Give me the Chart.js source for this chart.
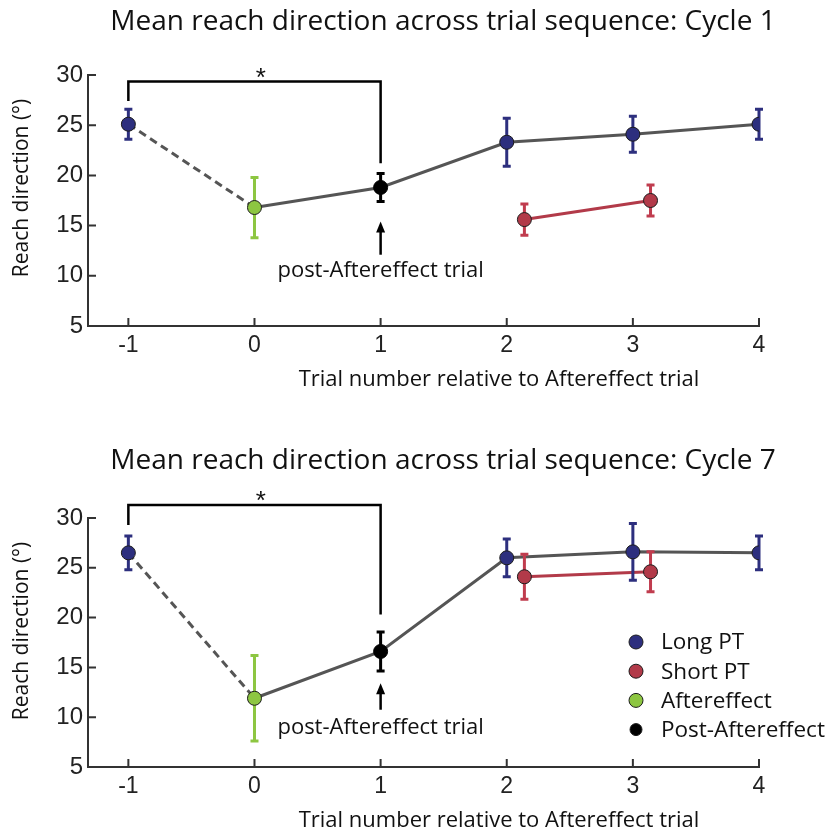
<!DOCTYPE html>
<html>
<head>
<meta charset="utf-8">
<script src="https://cdn.jsdelivr.net/npm/chart.js@4.4.1/dist/chart.umd.min.js"></script>
<style>
  html, body { margin: 0; padding: 0; background: #fff; overflow: hidden; }
  #wrap { position: relative; width: 830px; height: 835px; overflow: hidden; }
  .box { position: absolute; left: 0; width: 830px; }
  canvas { display: block; }
</style>
</head>
<body>
<div id="wrap">
  <div class="box" style="top:0;height:441px"><canvas id="cycle1" width="830" height="441"></canvas></div>
  <div class="box" style="top:441px;height:394px"><canvas id="cycle7" width="830" height="394"></canvas></div>
</div>
<script>
// ejes
const xTicks = [-1, 0, 1, 2, 3, 4];
const yTicks = [5, 10, 15, 20, 25, 30];

// posiciones x de cada grupo
const longX = [-1, 2, 3, 4];
const shortX = [2.14, 3.14];
const afterX = [0];
const postX = [1];

// Cycle 1
const c1Long = [25.1, 23.3, 24.1, 25.1];
const c1LongErr = [1.5, 2.4, 1.8, 1.5];
const c1Short = [15.6, 17.5];
const c1ShortErr = [1.55, 1.55];
const c1After = [16.8];
const c1AfterErr = [3.0];
const c1Post = [18.8];
const c1PostErr = [1.4];
const c1Bracket = [27.4, 29.35, 21.2];   // extremo izq, barra, extremo der
const c1Star = 30.3;
const c1Arrow = [15.4, 12.1];           // punta, cola
const c1Note = 10.7;

// Cycle 7
const c7Long = [26.5, 26.0, 26.6, 26.5];
const c7LongErr = [1.7, 1.9, 2.85, 1.7];
const c7Short = [24.1, 24.6];
const c7ShortErr = [2.25, 2.0];
const c7After = [11.9];
const c7AfterErr = [4.3];
const c7Post = [16.6];
const c7PostErr = [1.95];
const c7Bracket = [29.3, 31.3, 20.3];
const c7Star = 32.3;
const c7Arrow = [13.4, 10.75];
const c7Note = 9.1;

const colores = {
  azul: '#2d2f7e',
  rojo: '#b23a49',
  rojoBarra: '#c03c4e',
  verde: '#8dc641',
  negro: '#000000',
  gris: '#555555',
  eje: '#333333',
  borde: '#1c1c1c'
};

const sans = '"Open Sans", "Noto Sans", sans-serif';
const nums = '"Liberation Sans", Arial, sans-serif';

const zip = (xs, ys) => xs.map((x, i) => ({ x: x, y: ys[i] }));

// barras de error, ticks hacia dentro, textos y anotaciones
const extras = {
  id: 'extras',
  beforeDatasetDraw(chart, args) {
    const ds = chart.data.datasets[args.index];
    if (!ds.err) return;
    const xs = chart.scales.x, ys = chart.scales.y, ctx = chart.ctx;
    ctx.save();
    ctx.strokeStyle = ds.errColor;
    ctx.lineWidth = 3;
    ds.data.forEach((p, i) => {
      const px = xs.getPixelForValue(p.x);
      const top = ys.getPixelForValue(p.y + ds.err[i]);
      const bot = ys.getPixelForValue(p.y - ds.err[i]);
      ctx.beginPath();
      ctx.moveTo(px, top); ctx.lineTo(px, bot);
      ctx.moveTo(px - 4, top); ctx.lineTo(px + 4, top);
      ctx.moveTo(px - 4, bot); ctx.lineTo(px + 4, bot);
      ctx.stroke();
    });
    ctx.restore();
  },
  afterDraw(chart, args, opts) {
    const ctx = chart.ctx, xs = chart.scales.x, ys = chart.scales.y;
    const area = chart.chartArea;
    ctx.save();

    // ticks hacia dentro
    ctx.strokeStyle = colores.eje;
    ctx.lineWidth = 2;
    ctx.beginPath();
    xTicks.forEach(v => {
      const px = xs.getPixelForValue(v);
      ctx.moveTo(px, area.bottom); ctx.lineTo(px, area.bottom - 8);
    });
    yTicks.forEach(v => {
      const py = ys.getPixelForValue(v);
      ctx.moveTo(area.left, py); ctx.lineTo(area.left + 8, py);
    });
    ctx.stroke();

    ctx.fillStyle = '#111';
    ctx.textAlign = 'center';
    ctx.textBaseline = 'middle';

    // título
    ctx.font = '28px ' + sans;
    ctx.fillText(opts.title, 443, opts.titleY);

    // título eje x
    ctx.font = '22px ' + sans;
    ctx.fillText('Trial number relative to Aftereffect trial', 499, area.bottom + 54);

    // título eje y
    ctx.save();
    ctx.translate(22, area.top + 113);
    ctx.rotate(-Math.PI / 2);
    ctx.font = '21px ' + sans;
    ctx.fillText('Reach direction (°)', 0, 0);
    ctx.restore();

    // asterisco
    ctx.font = '26px ' + nums;
    ctx.fillText('*', xs.getPixelForValue(0.05), ys.getPixelForValue(opts.star) + 7);

    // flecha
    const ax = xs.getPixelForValue(postX[0]);
    const tip = ys.getPixelForValue(opts.arrow[0]);
    const tail = ys.getPixelForValue(opts.arrow[1]);
    ctx.strokeStyle = '#000';
    ctx.fillStyle = '#000';
    ctx.lineWidth = 2.5;
    ctx.beginPath();
    ctx.moveTo(ax, tail); ctx.lineTo(ax, tip + 8);
    ctx.stroke();
    ctx.beginPath();
    ctx.moveTo(ax, tip); ctx.lineTo(ax - 4.5, tip + 11); ctx.lineTo(ax + 4.5, tip + 11);
    ctx.closePath();
    ctx.fill();

    ctx.fillStyle = '#111';
    ctx.font = '22px ' + sans;
    ctx.fillText('post-Aftereffect trial', ax, ys.getPixelForValue(opts.note) + 2);

    // leyenda
    if (opts.legend) {
      ctx.textAlign = 'left';
      ctx.font = '22.5px ' + sans;
      chart.data.datasets.filter(d => d.inLegend).forEach((d, i) => {
        const cy = 201 + i * 29.2;
        ctx.beginPath();
        ctx.arc(636, cy, d.inLegend, 0, Math.PI * 2);
        ctx.fillStyle = d.pointBackgroundColor;
        ctx.fill();
        ctx.lineWidth = 1;
        ctx.strokeStyle = colores.borde;
        ctx.stroke();
        ctx.fillStyle = '#111';
        ctx.fillText(d.label, 661, cy + 1);
      });
    }
    ctx.restore();
  }
};

function buildChart(id, d) {
  const canvas = document.getElementById(id);
  const H = canvas.height;
  const seq = [
    { x: longX[0], y: d.long[0] },
    { x: afterX[0], y: d.after[0] },
    { x: postX[0], y: d.post[0] }
  ].concat(zip(longX.slice(1), d.long.slice(1)));
  const bracket = [
    { x: longX[0], y: d.bracket[0] },
    { x: longX[0], y: d.bracket[1] },
    { x: postX[0], y: d.bracket[1] },
    { x: postX[0], y: d.bracket[2] }
  ];
  const marker = (color) => ({
    showLine: false,
    pointRadius: 7,
    pointBackgroundColor: color,
    pointBorderColor: colores.borde,
    pointBorderWidth: 1,
    order: 1
  });

  return new Chart(canvas, {
    type: 'scatter',
    data: {
      datasets: [
        {
          label: 'conector', data: seq, showLine: true,
          borderColor: colores.gris, borderWidth: 3, pointRadius: 0, order: 10,
          segment: { borderDash: c => c.p0DataIndex === 0 ? [8, 5] : undefined }
        },
        {
          label: 'bracket', data: bracket, showLine: true, clip: false,
          borderColor: '#000', borderWidth: 2.5, pointRadius: 0, order: 9,
          borderJoinStyle: 'miter'
        },
        Object.assign(marker(colores.azul), {
          label: 'Long PT', data: zip(longX, d.long), err: d.longErr, errColor: colores.azul, inLegend: 7
        }),
        Object.assign(marker(colores.rojo), {
          label: 'Short PT', data: zip(shortX, d.short), err: d.shortErr, errColor: colores.rojoBarra,
          showLine: true, borderColor: colores.rojo, borderWidth: 3, inLegend: 7
        }),
        Object.assign(marker(colores.verde), {
          label: 'Aftereffect', data: zip(afterX, d.after), err: d.afterErr, errColor: colores.verde, inLegend: 7
        }),
        Object.assign(marker(colores.negro), {
          label: 'Post-Aftereffect', data: zip(postX, d.post), err: d.postErr, errColor: colores.negro,
          pointBorderColor: '#000', inLegend: 6
        })
      ]
    },
    options: {
      responsive: false,
      animation: false,
      events: [],
      layout: { padding: { top: d.areaTop, left: 0, right: 71, bottom: 0 } },
      scales: {
        x: {
          type: 'linear', min: -1.32, max: 4,
          afterBuildTicks: s => { s.ticks = xTicks.map(v => ({ value: v })); },
          afterFit: s => { s.height = H - 326; },
          ticks: { font: { family: nums, size: 23 }, color: '#222', padding: 6 },
          grid: { display: false, drawTicks: false },
          border: { color: colores.eje, width: 2 }
        },
        y: {
          type: 'linear', min: 5, max: 30,
          afterBuildTicks: s => { s.ticks = yTicks.map(v => ({ value: v })); },
          afterFit: s => { s.width = 88; },
          ticks: { font: { family: nums, size: 24 }, color: '#222', padding: 5 },
          grid: { display: false, drawTicks: false },
          border: { color: colores.eje, width: 2 }
        }
      },
      plugins: {
        legend: { display: false },
        tooltip: { enabled: false },
        extras: {
          title: d.title, titleY: d.titleY, star: d.star,
          arrow: d.arrow, note: d.note, legend: d.legend
        }
      }
    },
    plugins: [extras]
  });
}

buildChart('cycle1', {
  title: 'Mean reach direction across trial sequence: Cycle 1', titleY: 22, areaTop: 75,
  long: c1Long, longErr: c1LongErr, short: c1Short, shortErr: c1ShortErr,
  after: c1After, afterErr: c1AfterErr, post: c1Post, postErr: c1PostErr,
  bracket: c1Bracket, star: c1Star, arrow: c1Arrow, note: c1Note, legend: false
});

buildChart('cycle7', {
  title: 'Mean reach direction across trial sequence: Cycle 7', titleY: 20, areaTop: 77,
  long: c7Long, longErr: c7LongErr, short: c7Short, shortErr: c7ShortErr,
  after: c7After, afterErr: c7AfterErr, post: c7Post, postErr: c7PostErr,
  bracket: c7Bracket, star: c7Star, arrow: c7Arrow, note: c7Note, legend: true
});
</script>
</body>
</html>
